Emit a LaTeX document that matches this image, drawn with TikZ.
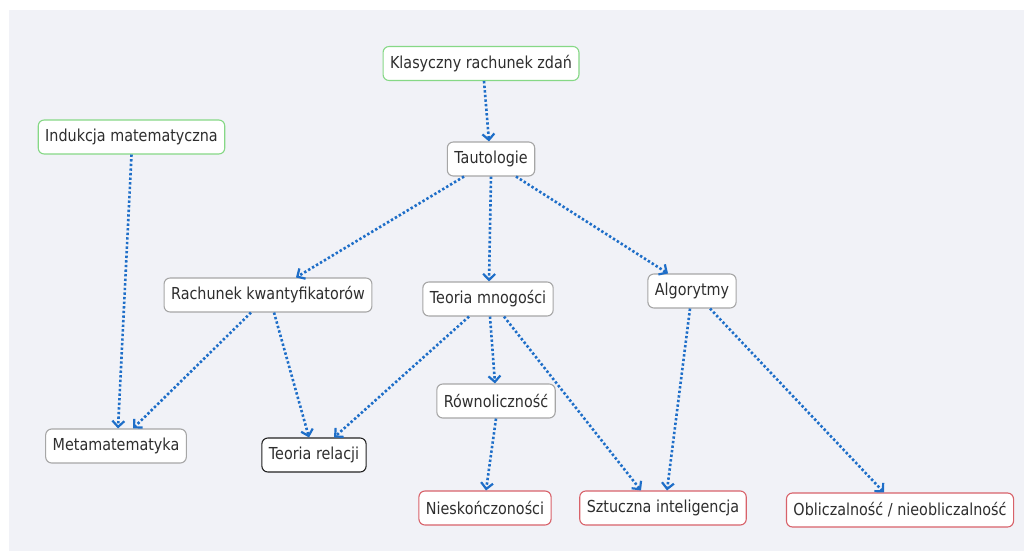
\documentclass[tikz,border=0pt]{standalone}
\usepackage{fontspec}
\setmainfont{DejaVu Sans}[FakeStretch=0.87]
\usetikzlibrary{arrows.meta}
\definecolor{canvas}{HTML}{F1F2F7}
\definecolor{linkblue}{HTML}{1E6EC8}
\definecolor{txt}{HTML}{2E2E2E}
\definecolor{bgreen}{HTML}{86D886}
\definecolor{bgrey}{HTML}{A6A6A6}
\definecolor{bred}{HTML}{D8626A}
\definecolor{bblack}{HTML}{222222}
\tikzset{
  concept/.style={draw=bgrey, fill=white, rounded corners=6pt, line width=1.1pt,
    minimum height=34pt, inner xsep=7pt, inner ysep=0pt, text=txt,
    font=\fontsize{16.5}{19}\selectfont},
  rootbox/.style={concept, draw=bgreen},
  leafbox/.style={concept, draw=bred},
  keybox/.style={concept, draw=bblack},
  link/.style={draw=linkblue, line width=2.6pt, dash pattern=on 2.4pt off 2.2pt,
    -{Straight Barb[length=6pt,width=12pt,line width=2.2pt]}},
}
\begin{document}
\begin{tikzpicture}[x=1pt,y=-1pt]
\useasboundingbox (0,0) rectangle (1024,551);
\fill[white] (0,0) rectangle (1024,551);
\fill[canvas] (9,10) rectangle (1024,551);

\node[rootbox] (krz) at (481,63.5) {Klasyczny rachunek zdań};
\node[rootbox] (ind) at (131.5,137) {Indukcja matematyczna};
\node[concept] (taut) at (491,159) {Tautologie};
\node[concept] (rkw) at (268,295) {Rachunek kwantyfikatorów};
\node[concept] (tm) at (488,299) {Teoria mnogości};
\node[concept] (alg) at (692,291) {Algorytmy};
\node[concept] (rown) at (496,401) {Równoliczność};
\node[concept] (meta) at (116,446) {Metamatematyka};
\node[keybox] (trel) at (314,455) {Teoria relacji};
\node[leafbox] (nies) at (485,508) {Nieskończoności};
\node[leafbox] (si) at (663,508) {Sztuczna inteligencja};
\node[leafbox] (obl) at (900,510) {Obliczalność / nieobliczalność};

\draw[link] ([xshift=3pt]krz.south) -- ([xshift=-2pt]taut.north);
\draw[link] ([xshift=-27pt]taut.south) -- ([xshift=28pt]rkw.north);
\draw[link] (taut.south) -- ([xshift=1pt]tm.north);
\draw[link] ([xshift=25pt]taut.south) -- ([xshift=-24pt]alg.north);
\draw[link] (ind.south) -- ([xshift=2pt]meta.north);
\draw[link] ([xshift=-17pt]rkw.south) -- ([xshift=17pt]meta.north);
\draw[link] ([xshift=6pt]rkw.south) -- ([xshift=-5pt]trel.north);
\draw[link] ([xshift=-19pt]tm.south) -- ([xshift=20pt]trel.north);
\draw[link] ([xshift=2pt]tm.south) -- ([xshift=-1pt]rown.north);
\draw[link] ([xshift=16pt]tm.south) -- ([xshift=-22pt]si.north);
\draw[link] (rown.south) -- ([xshift=1pt]nies.north);
\draw[link] ([xshift=-2pt]alg.south) -- ([xshift=4pt]si.north);
\draw[link] ([xshift=18pt]alg.south) -- ([xshift=-16pt]obl.north);
\end{tikzpicture}
\end{document}
